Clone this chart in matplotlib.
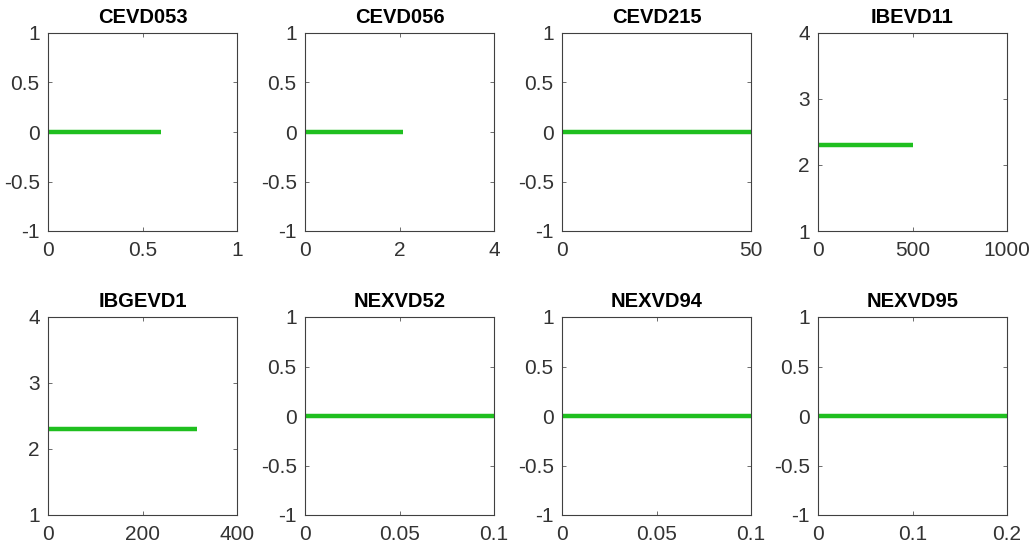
import numpy as np
import matplotlib.pyplot as plt

plt.rcParams['font.family'] = ['Liberation Sans', 'DejaVu Sans']

# per-station track: length of the green segment and its level
stations = ['CEVD053', 'CEVD056', 'CEVD215', 'IBEVD11',
            'IBGEVD1', 'NEXVD52', 'NEXVD94', 'NEXVD95']
x_end = [0.6, 2.07, 50, 500, 315, 0.1, 0.1, 0.2]
level = [0, 0, 0, 2.3, 2.3, 0, 0, 0]

x_limits = [(0, 1), (0, 4), (0, 50), (0, 1000),
            (0, 400), (0, 0.1), (0, 0.1), (0, 0.2)]
x_ticks = [[0, 0.5, 1], [0, 2, 4], [0, 50], [0, 500, 1000],
           [0, 200, 400], [0, 0.05, 0.1], [0, 0.05, 0.1], [0, 0.1, 0.2]]
x_labels = [['0', '0.5', '1'], ['0', '2', '4'], ['0', '50'], ['0', '500', '1000'],
            ['0', '200', '400'], ['0', '0.05', '0.1'], ['0', '0.05', '0.1'],
            ['0', '0.1', '0.2']]
y_limits = [(-1, 1), (-1, 1), (-1, 1), (1, 4),
            (1, 4), (-1, 1), (-1, 1), (-1, 1)]
y_ticks = [[-1, -0.5, 0, 0.5, 1]] * 3 + [[1, 2, 3, 4]] * 2 + [[-1, -0.5, 0, 0.5, 1]] * 3
y_labels = [['-1', '-0.5', '0', '0.5', '1']] * 3 + [['1', '2', '3', '4']] * 2 \
    + [['-1', '-0.5', '0', '0.5', '1']] * 3

fig = plt.figure(figsize=(10.3, 5.48), dpi=100)
W, H = 1030, 548
lefts = [48, 305, 562, 818]
tops = [33, 317]
aw, ah = 189, 198

for i, name in enumerate(stations):
    r, c = divmod(i, 4)
    ax = fig.add_axes([lefts[c] / W, 1 - (tops[r] + ah) / H, aw / W, ah / H])
    ax.plot([0, x_end[i]], [level[i], level[i]], color='#1fbf1f',
            lw=3.2, solid_capstyle='butt', clip_on=False)
    ax.set_xlim(*x_limits[i])
    ax.set_ylim(*y_limits[i])
    ax.set_xticks(x_ticks[i])
    ax.set_xticklabels(x_labels[i])
    ax.set_yticks(y_ticks[i])
    ax.set_yticklabels(y_labels[i])
    ax.tick_params(direction='in', top=True, right=True, length=3,
                   width=0.6, color='#555555', labelsize=15,
                   labelcolor='#333333')
    ax.tick_params(axis='x', pad=7)
    ax.tick_params(axis='y', pad=6)
    for s in ax.spines.values():
        s.set_color('#404040')
        s.set_linewidth(0.8)
    ax.set_title(name, fontsize=14.5, fontweight='bold', pad=7)

fig.savefig('out.png', dpi=100)
